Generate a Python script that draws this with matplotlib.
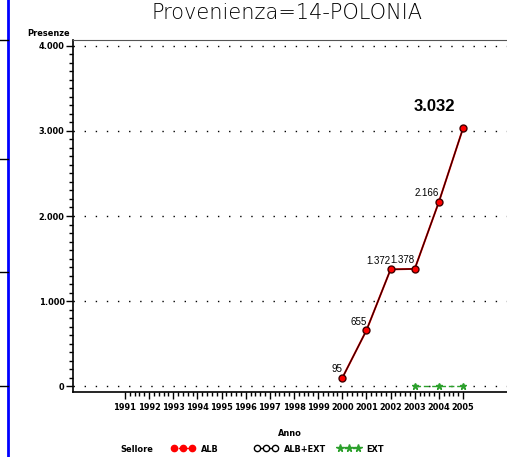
import numpy as np
import matplotlib
matplotlib.use("Agg")
import matplotlib.pyplot as plt
from matplotlib.lines import Line2D
from matplotlib.ticker import FixedLocator, FuncFormatter

# dati
anni = [2000, 2001, 2002, 2003, 2004, 2005]
alb = [95, 655, 1372, 1378, 2166, 3032]
alb_ext = [95, 655, 1372, 1378, 2166, 3032]
anni_ext = [2003, 2004, 2005]
ext = [0, 0, 0]
anni_asse = list(range(1991, 2006))
y_ticks = [0, 1000, 2000, 3000, 4000]
serie_legenda = ["ALB", "ALB+EXT", "EXT"]

small = {"family": "DejaVu Sans", "stretch": "condensed", "size": 6.6, "weight": "bold"}


def fmt_it(v, pos=None):
    return f"{v:,.0f}".replace(",", ".")


fig = plt.figure(figsize=(5.07, 4.57), dpi=100)
ax = fig.add_axes([73 / 507, 65 / 457, 434 / 507, 352 / 457])

ax.set_xlim(1988.85, 2006.82)
ax.set_ylim(-70, 4070)

# griglia punteggiata
for y in y_ticks:
    ax.axhline(y, color="black", lw=1, linestyle=(0, (1, 7)), zorder=1)

# serie
ax.plot(anni, alb, color="red", lw=1.4, zorder=3)
ax.plot(anni_ext, ext, color="#2ca02c", lw=1, linestyle=(0, (4, 2)),
        marker="*", markersize=5, zorder=3)
ax.plot(anni, alb_ext, color="#300000", lw=0.9, marker="o", markersize=5,
        markerfacecolor="red", markeredgecolor="#400000", markeredgewidth=1,
        zorder=4)

# etichette dei valori
for x, v in zip(anni[:-1], alb[:-1]):
    ax.annotate(fmt_it(v), (x, v), xytext=(0, 2.5), textcoords="offset points",
                ha="right", va="bottom", fontsize=7, family="Liberation Sans")
ax.annotate(fmt_it(alb[-1]), (anni[-1], alb[-1]), xytext=(-21, 10),
            textcoords="offset points", ha="center", va="bottom",
            fontsize=12, fontweight="bold", family="Liberation Sans")

# assi
ax.spines["right"].set_visible(False)
ax.spines["top"].set_color("#555555")
ax.spines["left"].set_linewidth(1.2)
ax.spines["bottom"].set_linewidth(1.2)

ax.xaxis.set_major_locator(FixedLocator(anni_asse))
minori_x = [a + k / 5 for a in anni_asse[:-1] for k in range(1, 5)]
ax.xaxis.set_minor_locator(FixedLocator(minori_x))
ax.set_xticklabels([str(a) for a in anni_asse], fontdict=small)

ax.yaxis.set_major_locator(FixedLocator(y_ticks))
ax.yaxis.set_minor_locator(FixedLocator([v for v in range(0, 4001, 100) if v % 1000]))
ax.yaxis.set_major_formatter(FuncFormatter(fmt_it))
for lab in ax.get_yticklabels():
    lab.set_fontproperties(small)

ax.tick_params(axis="x", which="major", length=5, width=1, pad=3)
ax.tick_params(axis="y", which="major", length=5, width=1, pad=1)
ax.tick_params(axis="both", which="minor", length=3, width=1)

ax.set_xlabel("Anno", fontdict=small, labelpad=12)
fig.text(70 / 507, 1 - 34 / 457, "Presenze", ha="right", va="center",
         fontdict=small)

fig.suptitle("Provenienza=14-POLONIA", x=287 / 507, y=1 - 3 / 457, va="top",
             fontsize=15, fontweight="light", color="black")

# legenda: una casella per serie, a larghezza fissa
fig.text(120 / 507, 1 - 449 / 457, "Sellore", ha="left", va="center",
         fontdict=small)
handles = [
    Line2D([], [], color="red", lw=1, linestyle=(0, (2, 1)), marker="o",
           markersize=4.5, markerfacecolor="red", markeredgecolor="red"),
    Line2D([], [], color="black", lw=1, marker="o", markersize=4.5,
           markerfacecolor="white", markeredgecolor="black"),
    Line2D([], [], color="#2ca02c", lw=1, linestyle=(0, (2, 1)), marker="*",
           markersize=5.5),
]
for i, (h, lab) in enumerate(zip(handles, serie_legenda)):
    fig.legend([h], [lab], numpoints=3, loc="center left",
               bbox_to_anchor=((163 + 83 * i) / 507, 1 - 449 / 457),
               frameon=False, handlelength=2.6, handletextpad=0.6, prop=small)

# bordo del grafico accanto
fig.add_artist(Line2D([8 / 507, 8 / 507], [0, 1], color="blue", lw=2))
for yy in [40, 159, 272, 386]:
    fig.add_artist(Line2D([0, 8 / 507], [1 - yy / 457] * 2, color="black", lw=1))

fig.savefig("out.png", dpi=100)
